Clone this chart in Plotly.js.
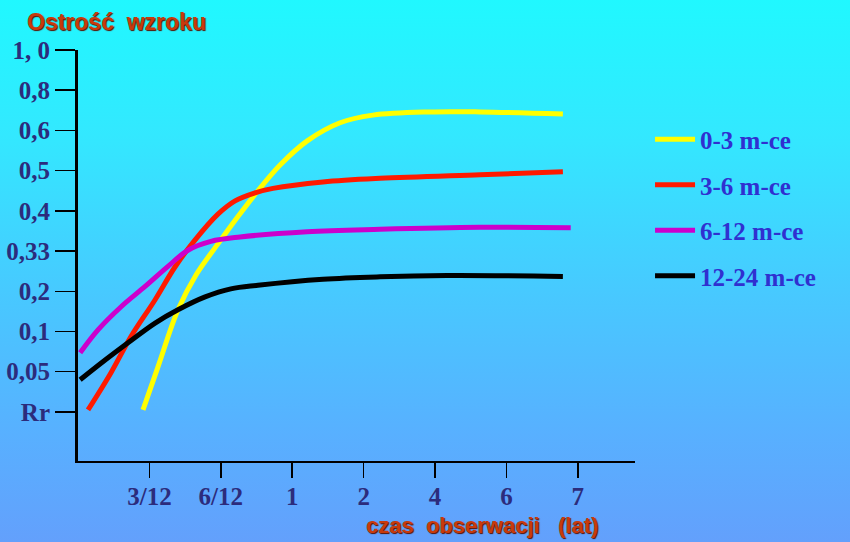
<!DOCTYPE html>
<html>
<head>
<meta charset="utf-8">
<script src="https://cdn.plot.ly/plotly-3.0.1.min.js"></script>
<style>
  html, body { margin: 0; padding: 0; }
  body { width: 850px; height: 542px; overflow: hidden;
    background: linear-gradient(to bottom, #20f8ff 0%, #33e8ff 25%, #48c8ff 55%, #58b0ff 80%, #63a0fc 100%); }
  #chart { width: 850px; height: 542px; }
</style>
</head>
<body>
<div id="chart"></div>
<script>
// Tick labels (y axis uses evenly spaced positions 0..9)
const yTickText = ["Rr", "0,05", "0,1", "0,2", "0,33", "0,4", "0,5", "0,6", "0,8", "1, 0"];
const xTickText = ["3/12", "6/12", "1", "2", "4", "6", "7"];
const seriesNames = ["0-3 m-ce", "3-6 m-ce", "6-12 m-ce", "12-24 m-ce"];

// Series values (x and y in tick-position units)
const xYellow = [0.91, 1.12, 1.40, 1.65, 1.96, 2.24, 2.52, 2.83, 3.21, 3.67, 4.13, 4.93, 5.63, 6.79];
const yYellow = [0.05, 1.12, 2.54, 3.40, 4.18, 4.86, 5.50, 6.14, 6.74, 7.19, 7.38, 7.46, 7.46, 7.41];

const xRed = [0.14, 0.46, 0.74, 1.08, 1.36, 1.64, 1.96, 2.20, 2.48, 2.73, 3.43, 4.23, 5.63, 6.79];
const yRed = [0.05, 0.97, 1.87, 2.79, 3.61, 4.28, 4.92, 5.25, 5.45, 5.56, 5.72, 5.81, 5.90, 5.97];

const xMagenta = [0.03, 0.28, 0.60, 0.94, 1.26, 1.54, 1.86, 2.27, 3.21, 4.23, 5.63, 6.90];
const yMagenta = [1.47, 2.04, 2.61, 3.12, 3.62, 4.02, 4.24, 4.35, 4.48, 4.54, 4.59, 4.58];

const xBlack = [0.03, 0.38, 0.70, 1.08, 1.40, 1.78, 2.14, 2.52, 3.43, 4.23, 5.17, 6.79];
const yBlack = [0.80, 1.29, 1.72, 2.21, 2.54, 2.86, 3.06, 3.15, 3.30, 3.36, 3.39, 3.37];

const xs = [xYellow, xRed, xMagenta, xBlack];
const ys = [yYellow, yRed, yMagenta, yBlack];
const colors = ["#ffff00", "#ff1a00", "#cc00cc", "#000000"];

const traces = xs.map((x, i) => ({
  type: "scatter", mode: "lines", x: x, y: ys[i], name: seriesNames[i],
  legendgroup: "g" + i,
  line: { color: colors[i], width: 5, shape: "spline", smoothing: 1 }
}));

const tickFont = { family: "Liberation Serif", size: 25, color: "#2c2c7c", weight: "bold" };
const titleFont = { family: "Liberation Sans", size: 23, color: "#c83a0c", weight: "bold", shadow: "1px 1px 1px #5a1000" };
const xTitleFont = { family: "Liberation Sans", size: 22, color: "#c83a0c", weight: "bold", shadow: "1px 1px 1px #5a1000" };

const layout = {
  width: 850, height: 542,
  margin: { l: 78, r: 215, t: 50, b: 81 },
  paper_bgcolor: "rgba(0,0,0,0)",
  plot_bgcolor: "rgba(0,0,0,0)",
  showlegend: true,
  legend: {
    x: 1.027, xanchor: "left", y: 0.838, yanchor: "top",
    bgcolor: "rgba(0,0,0,0)",
    font: { family: "Liberation Serif", size: 25, color: "#3030d0", weight: "bold" },
    tracegroupgap: 10, itemwidth: 40
  },
  xaxis: {
    range: [0, 7.8], showgrid: false, zeroline: false,
    showline: true, linecolor: "#000", linewidth: 2,
    tickmode: "array", tickvals: [1, 2, 3, 4, 5, 6, 7], ticktext: xTickText,
    ticks: "outside", ticklen: 15, tickwidth: 1.5, tickcolor: "#000",
    tickfont: tickFont, ticklabelstandoff: -3, fixedrange: true
  },
  yaxis: {
    range: [-1.22, 9], showgrid: false, zeroline: false,
    showline: true, linecolor: "#000", linewidth: 3,
    tickmode: "array", tickvals: [0, 1, 2, 3, 4, 5, 6, 7, 8, 9], ticktext: yTickText,
    ticks: "outside", ticklen: 20, tickwidth: 1.5, tickcolor: "#000",
    tickfont: tickFont, fixedrange: true
  },
  annotations: [
    { text: "Ostrość\u00a0\u00a0wzroku", xref: "paper", yref: "paper", x: 0.07, y: 1.068,
      xanchor: "center", yanchor: "middle", showarrow: false, font: titleFont },
    { text: "czas\u00a0\u00a0obserwacji\u00a0\u00a0\u00a0(lat)", xref: "paper", yref: "paper", x: 0.725, y: -0.158,
      xanchor: "center", yanchor: "middle", showarrow: false, font: xTitleFont }
  ]
};

Plotly.newPlot("chart", traces, layout, { displayModeBar: false, staticPlot: true });
</script>
</body>
</html>
